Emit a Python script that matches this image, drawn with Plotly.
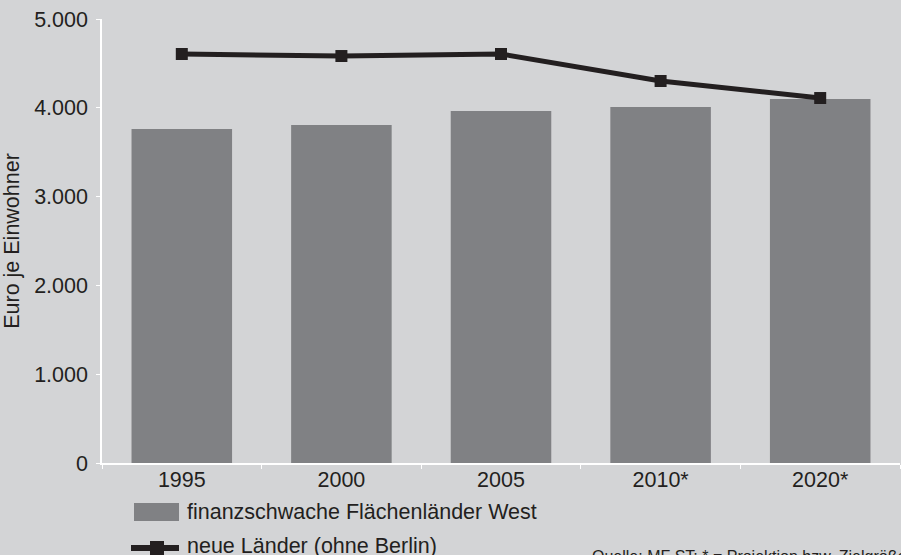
import plotly.graph_objects as go

categories = ["1995", "2000", "2005", "2010*", "2020*"]
west_values = [3760, 3806, 3964, 4009, 4099]
ost_values = [4606, 4583, 4606, 4302, 4110]
y_ticks = [0, 1000, 2000, 3000, 4000, 5000]
west_name = "finanzschwache Flächenländer West"
ost_name = "neue Länder (ohne Berlin)"
source_text = "Quelle: MF ST; * = Projektion bzw. Zielgröße"

W, H = 901, 555
L, R, T, B = 102, 1, 19, 92
pw, ph = W - L - R, H - T - B

BAR_COLOR = "#808184"
LINE_COLOR = "#231f20"
BG = "#d3d4d6"


def px_x(x):
    return (x - L) / pw


def px_y(y):
    return (H - B - y) / ph


fig = go.Figure()
fig.add_trace(go.Bar(
    x=categories, y=west_values, name=west_name,
    marker=dict(color=BAR_COLOR, line=dict(width=0)), showlegend=False,
))
fig.add_trace(go.Scatter(
    x=categories, y=ost_values, name=ost_name,
    mode="lines+markers", line=dict(color=LINE_COLOR, width=5),
    marker=dict(symbol="square", size=12, color=LINE_COLOR), showlegend=False,
))

font = "Liberation Sans, Arial, Helvetica, sans-serif"
FS = 21.5

shapes = [
    # legend swatch: bar
    dict(type="rect", xref="paper", yref="paper",
         x0=px_x(134), x1=px_x(179), y0=px_y(521), y1=px_y(503),
         fillcolor=BAR_COLOR, line=dict(width=0)),
    # legend swatch: line
    dict(type="line", xref="paper", yref="paper",
         x0=px_x(131), x1=px_x(179), y0=px_y(548), y1=px_y(548),
         line=dict(color=LINE_COLOR, width=6)),
    dict(type="rect", xref="paper", yref="paper",
         x0=px_x(150), x1=px_x(164), y0=px_y(555), y1=px_y(541),
         fillcolor=LINE_COLOR, line=dict(width=0)),
]

annotations = [
    dict(text=west_name, xref="paper", yref="paper", x=px_x(185), y=px_y(512),
         xanchor="left", yanchor="middle", showarrow=False,
         font=dict(size=FS, color=LINE_COLOR)),
    dict(text=ost_name, xref="paper", yref="paper", x=px_x(185), y=px_y(546),
         xanchor="left", yanchor="middle", showarrow=False,
         font=dict(size=FS, color=LINE_COLOR)),
    dict(text=source_text, xref="paper", yref="paper", x=px_x(590), y=px_y(546),
         xanchor="left", yanchor="top", showarrow=False,
         font=dict(size=16, color=LINE_COLOR)),
]

fig.update_layout(
    width=W, height=H,
    margin=dict(l=L, r=R, t=T, b=B, pad=0),
    paper_bgcolor=BG, plot_bgcolor=BG,
    separators=",.",
    bargap=0.37,
    font=dict(family=font, size=FS, color=LINE_COLOR),
    showlegend=False,
    shapes=shapes,
    annotations=annotations,
    xaxis=dict(
        showgrid=False, showline=True, linecolor="white", linewidth=1.5,
        ticks="outside", tickson="boundaries", tickcolor="white", ticklen=4,
        ticklabelstandoff=-4,
        tickfont=dict(size=FS, color=LINE_COLOR), zeroline=False,
    ),
    yaxis=dict(
        range=[0, 5000], tickvals=y_ticks, tickformat=",d",
        showgrid=False, showline=True, linecolor="white", linewidth=1.5,
        ticks="outside", tickcolor="white", ticklen=4, ticklabelstandoff=4,
        tickfont=dict(size=FS, color=LINE_COLOR), zeroline=False,
        title=dict(text="Euro je Einwohner", font=dict(size=FS, color=LINE_COLOR), standoff=10),
    ),
)

fig.write_html("out.html", post_script="document.body.style.margin='0';",
               config={"displayModeBar": False})
